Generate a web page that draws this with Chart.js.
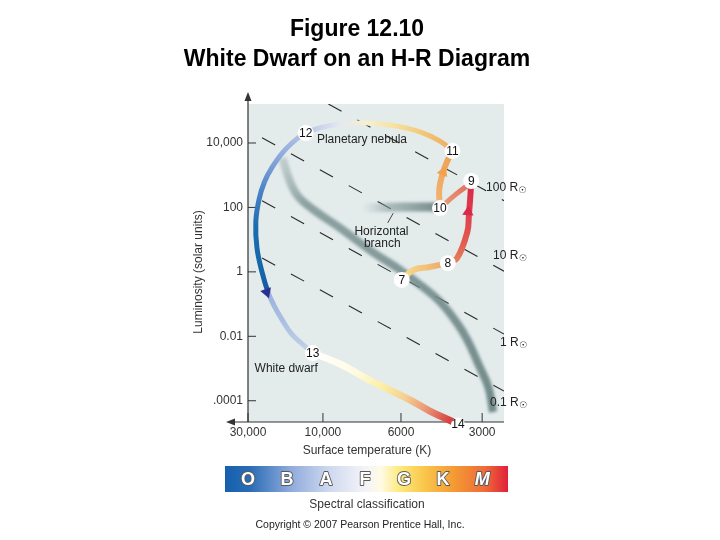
<!DOCTYPE html>
<html>
<head>
<meta charset="utf-8">
<script src="https://cdn.jsdelivr.net/npm/chart.js@4.4.0/dist/chart.umd.min.js"></script>
<style>
  html, body { margin: 0; padding: 0; background: #ffffff; }
  canvas { display: block; }
</style>
</head>
<body>
<canvas id="hrChart" width="720" height="540"></canvas>
<script>
// x: position along the (schematic) temperature axis, 0 = 30,000 K ... 3 = 3000 K
// y: log10 of luminosity in solar units
const tempTickPos = [0, 0.96, 1.96, 3];
const tempTickLabels = ['30,000', '10,000', '6000', '3000'];
const lumTickPos = [4, 2, 0, -2, -4];
const lumTickLabels = ['10,000', '100', '1', '0.01', '.0001'];
const spectralClasses = ['O', 'B', 'A', 'F', 'G', 'K', 'M'];
const spectralPos = [0, 0.5, 1, 1.5, 2, 2.5, 3];

// lines of constant radius
const radiusLabels = ['100 R', '10 R', '1 R', '0.1 R'];
const radiusLines = [
  [[1.03, 5.21], [3.28, 2.21]],
  [[0.18, 4.16], [3.28, 0.02]],
  [[0.18, 2.21], [3.28, -1.93]],
  [[0.18, 0.43], [3.28, -3.70]]
];
const radiusLabelAt = [[3.05, 2.60], [3.14, 0.49], [3.23, -2.21], [3.10, -4.07]];

// main sequence and horizontal branch bands
const mainSeq = [[0.44, 3.53], [0.54, 2.79], [0.65, 2.32], [0.88, 1.86], [1.18, 1.36], [1.60, 0.61],
  [1.95, 0.06], [2.21, -0.41], [2.46, -0.93], [2.67, -1.56], [2.81, -2.11], [2.97, -2.96],
  [3.08, -3.58], [3.14, -4.35]];
const horizBranch = [[1.47, 1.98], [1.95, 2.01], [2.44, 2.01]];

// evolutionary track, stage to stage
const track7to8 = [[1.97, -0.25], [2.12, 0.06], [2.33, 0.15], [2.56, 0.27]];
const track8to9 = [[2.56, 0.27], [2.68, 0.43], [2.81, 1.24], [2.83, 1.76], [2.85, 2.39], [2.86, 2.82]];
const track9to10 = [[2.86, 2.76], [2.67, 2.42], [2.46, 1.98]];
const track10to11 = [[2.46, 1.98], [2.45, 2.54], [2.50, 3.10], [2.56, 3.47], [2.62, 3.75]];
const track11to12 = [[2.62, 3.75], [2.46, 4.06], [2.21, 4.34], [1.88, 4.53], [1.53, 4.62], [1.18, 4.59],
  [0.92, 4.47], [0.74, 4.31]];
const track12to13 = [[0.74, 4.31], [0.64, 4.16], [0.46, 3.75], [0.31, 3.25], [0.21, 2.79], [0.14, 2.23],
  [0.10, 1.55], [0.115, 0.74], [0.18, -0.01], [0.256, -0.63], [0.33, -1.03], [0.44, -1.50],
  [0.56, -1.93], [0.71, -2.27], [0.83, -2.52]];
const track13to14 = [[0.83, -2.52], [1.18, -2.86], [1.53, -3.33], [1.82, -3.67], [2.08, -3.98],
  [2.33, -4.32], [2.63, -4.66]];

const stageLabels = ['7', '8', '9', '10', '11', '12', '13', '14'];
const stagePoints = [[1.97, -0.25], [2.56, 0.27], [2.86, 2.82], [2.46, 1.98], [2.62, 3.75],
  [0.74, 4.31], [0.83, -2.52], [2.69, -4.74]];

const arrowPoints = [[2.82, 1.86], [2.50, 3.10], [0.24, -0.63]];
const arrowAngles = [4, 20, 160];

const noteTexts = ['Planetary nebula', 'Horizontal', 'branch', 'White dwarf'];
const noteAt = [[1.46, 4.09], [1.71, 1.24], [1.72, 0.87], [0.49, -3.02]];
const leaderLine = [[1.86, 1.82], [1.79, 1.52]];

const FONT = '"Liberation Sans", Arial, Helvetica, sans-serif';

function pts(list) {
  return list.map(p => ({ x: p[0], y: p[1] }));
}

// linear gradient running from the first to the last point of a dataset
function gradientAlong(stops) {
  return function (context) {
    const chart = context.chart;
    if (!chart.chartArea || !chart.scales.x) return stops[0][1];
    const d = context.dataset.data;
    const a = d[0], b = d[d.length - 1];
    const sx = chart.scales.x, sy = chart.scales.y;
    const g = chart.ctx.createLinearGradient(
      sx.getPixelForValue(a.x), sy.getPixelForValue(a.y),
      sx.getPixelForValue(b.x), sy.getPixelForValue(b.y));
    stops.forEach(s => g.addColorStop(s[0], s[1]));
    return g;
  };
}

function trackSet(list, stops, width) {
  return {
    data: pts(list), showLine: true, borderColor: gradientAlong(stops), borderWidth: width,
    tension: 0.4, pointRadius: 0, order: 3, clip: false, fill: false
  };
}

const datasets = [];

// stage circles
datasets.push({
  data: pts(stagePoints), pointRadius: [8, 8, 8, 8, 8, 8, 8, 7], pointBackgroundColor: '#ffffff',
  pointBorderWidth: 0, showLine: false, order: 1, clip: false
});

// arrowheads
datasets.push({
  data: pts(arrowPoints), pointStyle: 'triangle', pointRadius: 6.5, pointRotation: arrowAngles,
  pointBackgroundColor: ['#d9284a', '#f0a24e', '#27318f'], pointBorderWidth: 0, showLine: false, order: 2
});

datasets.push(trackSet(track7to8, [[0, '#f7de90'], [0.5, '#f2c47c'], [1, '#eba266']], 6));
datasets.push(trackSet(track8to9, [[0, '#e8865c'], [0.3, '#e25a50'], [1, '#d82448']], 6));
datasets.push(trackSet(track9to10, [[0, '#e06a5c'], [1, '#eca07a']], 5));
datasets.push(trackSet(track10to11, [[0, '#f2b474'], [1, '#efa052']], 6));
datasets.push(trackSet(track11to12, [[0, '#eeaa60'], [0.22, '#f3c878'], [0.42, '#f7e2a0'],
  [0.6, '#f6efd2'], [0.77, '#e6e9f0'], [0.9, '#ccd5ec'], [1, '#b4c3e6']], 5));
datasets.push(trackSet(track12to13, [[0, '#b4c3e6'], [0.12, '#86a4da'], [0.26, '#4a82c6'],
  [0.42, '#1c6cb0'], [0.62, '#1466aa'], [0.7, '#1a5aa4'], [0.72, '#9ab4dc'], [0.85, '#aabfe2'],
  [1, '#c4d2ea']], 5));
datasets.push(trackSet(track13to14, [[0, '#ffffff'], [0.3, '#fffbe2'], [0.5, '#fbeea4'],
  [0.65, '#f5d092'], [0.8, '#eb9a78'], [1, '#d4363a']], 7));

// bands
datasets.push({
  data: pts(mainSeq), showLine: true, tension: 0.4, pointRadius: 0, borderWidth: 8, order: 4, blur: true,
  borderColor: gradientAlong([[0, 'rgba(160,178,178,0.5)'], [0.15, 'rgba(125,148,148,0.85)'],
    [1, 'rgba(108,133,133,0.95)']])
});
datasets.push({
  data: pts(horizBranch), showLine: true, tension: 0, pointRadius: 0, borderWidth: 9, order: 4, blur: true,
  borderColor: gradientAlong([[0, 'rgba(150,168,168,0)'], [0.35, 'rgba(135,155,155,0.6)'],
    [1, 'rgba(108,133,133,0.95)']])
});

// leader line of the horizontal branch label
datasets.push({
  data: pts(leaderLine), showLine: true, pointRadius: 0, borderWidth: 1, borderColor: '#444444', order: 4
});

// dashed constant-radius lines
radiusLines.forEach(l => {
  datasets.push({
    data: pts(l), showLine: true, pointRadius: 0, borderWidth: 1.1, borderColor: '#2a2a2a',
    borderDash: [15, 18], order: 5
  });
});

function text(ctx, str, x, y, font, align, color) {
  ctx.font = font;
  ctx.textAlign = align || 'center';
  ctx.textBaseline = 'middle';
  ctx.fillStyle = color || '#222222';
  ctx.fillText(str, x, y);
}

const hrDecor = {
  id: 'hrDecor',
  beforeDatasetsDraw(chart) {
    const { ctx, chartArea: a } = chart;
    const sx = chart.scales.x, sy = chart.scales.y;
    ctx.save();
    ctx.fillStyle = '#e3ebeb';
    ctx.fillRect(a.left, a.top, a.right - a.left, a.bottom - a.top);

    // axes with arrowheads
    ctx.strokeStyle = '#333333';
    ctx.fillStyle = '#333333';
    ctx.lineWidth = 1.2;
    ctx.beginPath();
    ctx.moveTo(a.left, a.bottom);
    ctx.lineTo(a.left, 99);
    ctx.moveTo(a.right, a.bottom);
    ctx.lineTo(233, a.bottom);
    ctx.stroke();
    ctx.beginPath();
    ctx.moveTo(a.left, 92); ctx.lineTo(a.left - 3.5, 101); ctx.lineTo(a.left + 3.5, 101); ctx.closePath();
    ctx.moveTo(226, a.bottom); ctx.lineTo(235, a.bottom - 3.5); ctx.lineTo(235, a.bottom + 3.5); ctx.closePath();
    ctx.fill();

    // ticks (pointing inward)
    ctx.lineWidth = 1;
    ctx.beginPath();
    lumTickPos.forEach(v => {
      const py = sy.getPixelForValue(v);
      ctx.moveTo(a.left, py); ctx.lineTo(a.left + 8, py);
    });
    tempTickPos.forEach(v => {
      const px = sx.getPixelForValue(v);
      ctx.moveTo(px, a.bottom); ctx.lineTo(px, a.bottom - 9);
    });
    ctx.stroke();
    ctx.restore();
  },
  beforeDatasetDraw(chart, args) {
    if (chart.data.datasets[args.index].blur) {
      chart.ctx.save();
      chart.ctx.filter = 'blur(1.6px)';
    }
  },
  afterDatasetDraw(chart, args) {
    if (chart.data.datasets[args.index].blur) chart.ctx.restore();
  },
  afterDatasetsDraw(chart) {
    const { ctx, chartArea: a } = chart;
    const sx = chart.scales.x, sy = chart.scales.y;
    ctx.save();

    // stage numbers
    const meta = chart.getDatasetMeta(0);
    meta.data.forEach((el, i) => {
      text(ctx, stageLabels[i], el.x, el.y + 0.5, '12px ' + FONT, 'center', '#111111');
    });

    // annotations
    noteTexts.forEach((t, i) => {
      text(ctx, t, sx.getPixelForValue(noteAt[i][0]), sy.getPixelForValue(noteAt[i][1]), '12px ' + FONT);
    });

    // radius labels with the solar symbol
    radiusLabels.forEach((t, i) => {
      const px = sx.getPixelForValue(radiusLabelAt[i][0]);
      const py = sy.getPixelForValue(radiusLabelAt[i][1]);
      text(ctx, t, px, py, '12px ' + FONT, 'left');
      const w = ctx.measureText(t).width;
      text(ctx, '\u2609', px + w + 0.5, py + 3, '9px "DejaVu Sans", sans-serif', 'left');
    });

    // tick labels
    lumTickPos.forEach((v, i) => {
      text(ctx, lumTickLabels[i], a.left - 5, sy.getPixelForValue(v), '12px ' + FONT, 'right', '#333333');
    });
    tempTickPos.forEach((v, i) => {
      text(ctx, tempTickLabels[i], sx.getPixelForValue(v), a.bottom + 11, '12px ' + FONT, 'center', '#333333');
    });

    // axis titles
    text(ctx, 'Surface temperature (K)', 367, 451, '12px ' + FONT, 'center', '#333333');
    ctx.save();
    ctx.translate(199, 272);
    ctx.rotate(-Math.PI / 2);
    text(ctx, 'Luminosity (solar units)', 0, 0, '12px ' + FONT, 'center', '#333333');
    ctx.restore();

    // spectral classification bar
    const bx0 = 225, bx1 = 508, by0 = 466, by1 = 492;
    const g = ctx.createLinearGradient(bx0, 0, bx1, 0);
    [[0, '#1560ae'], [0.088, '#2a6cb4'], [0.23, '#8eaadc'], [0.37, '#cfd9ef'], [0.49, '#f2f3f8'],
     [0.55, '#fffbe6'], [0.62, '#fde97a'], [0.71, '#f9c44a'], [0.81, '#f49a34'], [0.92, '#ee6a38'],
     [1, '#e0203c']].forEach(s => g.addColorStop(s[0], s[1]));
    ctx.fillStyle = g;
    ctx.fillRect(bx0, by0, bx1 - bx0, by1 - by0);
    spectralClasses.forEach((c, i) => {
      const px = sx.getPixelForValue(spectralPos[i]);
      ctx.font = (c === 'M' ? 'italic ' : '') + 'bold 18px ' + FONT;
      ctx.textAlign = 'center';
      ctx.textBaseline = 'middle';
      ctx.lineWidth = 1.8;
      ctx.strokeStyle = '#5a5a5a';
      ctx.lineJoin = 'round';
      ctx.strokeText(c, px, 480);
      ctx.fillStyle = '#ffffff';
      ctx.fillText(c, px, 480);
    });
    text(ctx, 'Spectral classification', 367, 505, '12px ' + FONT, 'center', '#333333');
    text(ctx, 'Copyright \u00a9 2007 Pearson Prentice Hall, Inc.', 360, 525, '10.5px ' + FONT, 'center', '#222222');

    // title
    text(ctx, 'Figure 12.10', 357, 30, 'bold 23px ' + FONT, 'center', '#000000');
    text(ctx, 'White Dwarf on an H-R Diagram', 357, 60, 'bold 23px ' + FONT, 'center', '#000000');
    ctx.restore();
  }
};

new Chart(document.getElementById('hrChart'), {
  type: 'scatter',
  data: { datasets: datasets },
  options: {
    responsive: false,
    animation: false,
    layout: { padding: { left: 248, right: 216, top: 104, bottom: 118 } },
    plugins: { legend: { display: false }, tooltip: { enabled: false }, title: { display: false } },
    scales: {
      x: { type: 'linear', min: 0, max: 3.28, display: false },
      y: { type: 'linear', min: -4.66, max: 5.21, display: false }
    }
  },
  plugins: [hrDecor]
});
</script>
</body>
</html>
